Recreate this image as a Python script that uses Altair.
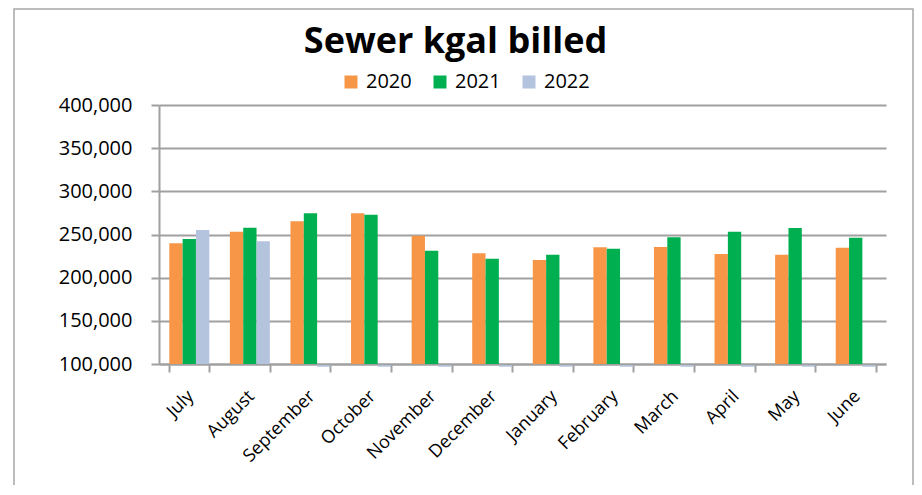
import altair as alt
import pandas as pd

months = ["July", "August", "September", "October", "November", "December",
          "January", "February", "March", "April", "May", "June"]
years = ["2020", "2021", "2022"]
v2020 = [239800, 253200, 265300, 274600, 248600, 228200, 220500, 235200, 235500, 227400, 226600, 234700]
v2021 = [244800, 257900, 274600, 272900, 231200, 222000, 226600, 233600, 246800, 253200, 257500, 246300]
v2022 = [255200, 242100, 0, 0, 0, 0, 0, 0, 0, 0, 0, 0]
colors = ["#F79646", "#00B050", "#B4C3DE"]
y_ticks = [100000, 150000, 200000, 250000, 300000, 350000, 400000]

rows = []
for yr, vals in zip(years, [v2020, v2021, v2022]):
    for m, v in zip(months, vals):
        rows.append({"month": m, "year": yr, "value": v})
df = pd.DataFrame(rows)

FONT = "Open Sans"
GRAY = "#A0A0A0"

x_enc = alt.X("month:N", sort=months, title=None,
              scale=alt.Scale(paddingInner=0.34, paddingOuter=0.17),
              axis=alt.Axis(labelAngle=-45, labelAlign="right", labelBaseline="top",
                            labelFontSize=18, labelPadding=15, labelOffset=-5, tickSize=8,
                            tickBand="extent", domainColor=GRAY, tickColor=GRAY,
                            domainWidth=2, tickWidth=2, grid=False))
y_scale = alt.Scale(domain=[100000, 400000], clamp=True, zero=False, nice=False)
xoff = alt.XOffset("year:N", sort=years, scale=alt.Scale(paddingInner=0, paddingOuter=0))
color = alt.Color("year:N", sort=years, scale=alt.Scale(domain=years, range=colors),
                  legend=alt.Legend(title=None, orient="none", legendX=182, legendY=-33,
                                    direction="horizontal", symbolType="square",
                                    symbolSize=169, symbolStrokeWidth=0,
                                    labelFontSize=20, labelFont=FONT, labelOffset=5,
                                    columnPadding=18, padding=0, labelColor="black"))

bars = alt.Chart(df).transform_filter("datum.value > 0").mark_bar().encode(
    x=x_enc,
    xOffset=xoff,
    y=alt.Y("value:Q", scale=y_scale, title=None,
            axis=alt.Axis(values=y_ticks, format=",d", labelFontSize=20, labelPadding=19,
                          tickSize=8, grid=True, gridColor=GRAY, gridWidth=2,
                          domainColor=GRAY, tickColor=GRAY, domainWidth=2, tickWidth=2)),
    color=color,
)

zeros = alt.Chart(df).transform_filter("datum.value == 0").mark_bar(
    yOffset=2, stroke="#B4C3DE", strokeWidth=1.5).encode(
    x=alt.X("month:N", sort=months),
    xOffset=xoff,
    y=alt.Y("value:Q", scale=y_scale),
    color=color,
)

frame = alt.Chart(alt.Data(values=[{}])).mark_rect(
    fill="transparent", stroke="#A6A6A6", strokeWidth=1.5).encode(
    x=alt.value(-145), x2=alt.value(754), y=alt.value(-96), y2=alt.value(420))

chart = alt.layer(frame, bars, zeros).properties(
    width=727, height=259,
    autosize=alt.AutoSizeParams(type="none"),
    padding={"left": 151, "top": 97, "right": 28, "bottom": 121},
    title=alt.TitleParams("Sewer kgal billed", anchor="middle", fontSize=36,
                          font=FONT, fontWeight="bold", color="black",
                          baseline="alphabetic", offset=-81, dx=-67),
).configure_view(stroke=None).configure_axis(
    labelFont=FONT, labelColor="black")

chart.save("out.html", embed_options={"renderer": "svg", "actions": False})
